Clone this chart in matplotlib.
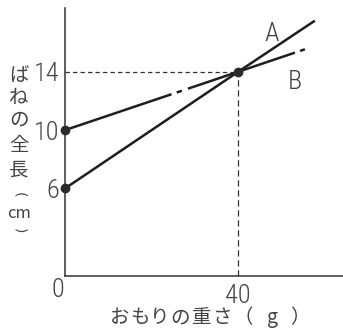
import numpy as np
import matplotlib
matplotlib.use('Agg')
import matplotlib.pyplot as plt
from matplotlib import font_manager

# data
a_x = [0, 40, 57.7]
a_y = [6, 14, 17.5]
# line B is drawn with small breaks in the scan
b_x = [0, 24.6, np.nan, 25.8, 27.0, np.nan, 28.4, 53.1, np.nan, 54.3, 55.4]
b_y = [10, 12.46, np.nan, 12.58, 12.70, np.nan, 12.84, 15.31, np.nan, 15.43, 15.54]
dot_x = [0, 0, 40]
dot_y = [10, 6, 14]
guide_x = 40
guide_y = 14
y_ticks = [6, 10, 14]
x_ticks = [40]
y_label = ['ば', 'ね', 'の', '全', '長', '(', 'cm', ')']
x_label = 'おもりの重さ（g）'

names = {f.name for f in font_manager.fontManager.ttflist}
num_font = 'DejaVu Sans'
for cand in ['Liberation Sans Narrow', 'DejaVu Sans Condensed', 'Roboto Condensed',
             'Roboto', 'Liberation Sans']:
    if cand in names:
        num_font = cand
        break
jp_font = ['Noto Sans CJK JP', 'DejaVu Sans']

ink = '#1e1e1e'
txt = '#444444'

fig = plt.figure(figsize=(3.43, 3.36), dpi=100)
ax = fig.add_axes([65 / 343, 60 / 336, 1 - 65 / 343, 268 / 336])
ax.set_xlim(0, 64.2)
ax.set_ylim(0, 18.37)

for side in ['top', 'right']:
    ax.spines[side].set_visible(False)
for side in ['left', 'bottom']:
    ax.spines[side].set_linewidth(1.1)
    ax.spines[side].set_color('#333333')

# guide lines
ax.plot([0, guide_x], [guide_y, guide_y], color='#333333', lw=0.9,
        linestyle=(0, (3.5, 2.5)))
ax.plot([guide_x, guide_x], [0, guide_y], color='#333333', lw=0.9,
        linestyle=(0, (5, 3)))

ax.plot(a_x, a_y, color=ink, lw=1.8, solid_capstyle='butt')
ax.plot(b_x, b_y, color=ink, lw=1.8, solid_capstyle='butt')
ax.plot(dot_x, dot_y, 'o', color='#2a2a2a', markersize=6, clip_on=False, zorder=5)

num_kw = dict(fontsize=19, color=txt, family=num_font, fontweight='light')
ax.set_yticks(y_ticks)
ax.set_yticklabels([str(v) for v in y_ticks], **num_kw)
ax.set_xticks(x_ticks)
ax.set_xticklabels([str(v) for v in x_ticks], **num_kw)
ax.tick_params(axis='y', length=0, pad=4)
ax.tick_params(axis='x', length=0, pad=6)
ax.text(-1.7, -0.95, '0', ha='center', va='center', **num_kw)

ax.text(47.8, 16.6, 'A', ha='center', va='center', **num_kw)
ax.text(53.1, 13.3, 'B', ha='center', va='center', **num_kw)

# vertical y label, one character at a time
y_pos = [75, 97, 120, 145, 170, 195, 213, 231]
for ch, yp in zip(y_label, y_pos):
    if ch == 'cm':
        fig.text(19 / 343, 1 - yp / 336, ch, ha='center', va='center',
                 fontsize=12, color=txt, family=jp_font)
    elif ch in '()':
        fig.text(19 / 343, 1 - yp / 336, ch, ha='center', va='center',
                 fontsize=10, color=txt, family='DejaVu Sans', rotation=-90)
    else:
        fig.text(19 / 343, 1 - yp / 336, ch, ha='center', va='center',
                 fontsize=14, color=txt, family=jp_font)

# x label, spaced like the reference
x_pos = [120, 140, 160, 180, 202, 223, 243, 273, 300]
for ch, xp in zip(x_label, x_pos):
    fig.text(xp / 343, 1 - 318 / 336, ch, ha='center', va='center',
             fontsize=14, color=txt, family=jp_font)

fig.savefig('out.png', dpi=100, facecolor='white')
